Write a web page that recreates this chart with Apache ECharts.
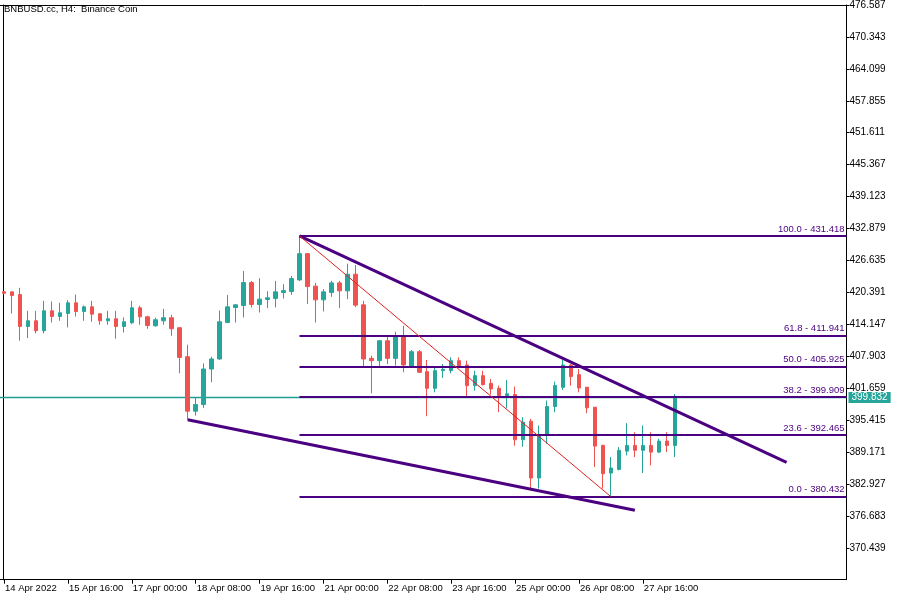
<!DOCTYPE html>
<html>
<head>
<meta charset="utf-8">
<script src="https://cdn.jsdelivr.net/npm/echarts@6/dist/echarts.min.js"></script>
<style>
html,body{margin:0;padding:0;background:#fff;}
#chart{width:900px;height:600px;}
</style>
</head>
<body>
<div id="chart"></div>
<script>
// ---- data (H4 bars, 14 Apr 2022 08:00 onward) ----
const opens  = [420.5,420.49,419.96,413.72,414.83,412.88,416.78,415.67,416.26,418.34,416.65,417.56,416.2,414.83,415.22,413.72,414.44,417.37,415.61,413.85,414.83,415.42,413.47,407.81,397.15,398.45,405.4,407.36,414.5,417.43,417.82,422.3,418.01,418.99,419.19,420.35,420.55,422.83,427.96,421.6,418.92,420.35,422.24,420.68,423.93,417.95,407.48,407.03,410.93,407.48,411.9,406.0,408.78,404.88,401.63,405.08,405.08,407.03,406.19,402.15,404.1,402.6,401.63,400.21,400.4,391.57,395.2,384.08,392.6,398.06,401.82,406.19,404.3,401.82,397.92,390.45,385.05,385.77,389.34,390.45,389.5,390.45,389.15,391.3,390.45];
const closes = [420.2,419.76,413.72,414.83,412.88,416.78,415.67,416.39,418.34,416.65,417.56,416.13,414.83,415.22,413.72,414.63,417.37,415.61,413.92,415.03,415.42,413.27,407.67,397.15,398.45,405.4,407.36,414.63,417.56,417.95,422.3,418.01,419.06,419.32,420.49,420.74,423.08,427.96,421.52,418.92,420.49,422.24,420.68,423.93,417.89,407.36,407.03,410.93,407.48,411.9,406.19,408.78,404.75,401.63,405.08,405.34,407.03,406.05,402.15,404.1,402.35,401.5,400.21,400.54,391.57,395.0,384.08,392.6,398.06,402.15,406.19,403.91,401.7,397.81,390.32,384.93,386.03,389.5,390.45,389.5,390.45,389.15,391.3,390.45,399.832];
const lows   = [420.0,416.25,410.93,411.46,412.36,412.36,414.5,414.83,413.53,415.67,414.83,414.63,414.05,414.05,411.32,412.55,414.18,414.05,413.27,413.66,414.05,411.9,404.57,395.47,396.3,397.8,402.8,407.2,414.4,414.5,415.48,417.43,416.45,417.3,417.43,419.19,419.9,422.6,418.1,414.5,416.65,419.51,417.3,419.06,417.5,405.92,400.65,405.92,406.38,406.05,404.75,405.73,404.6,396.17,400.85,403.66,404.55,405.73,400.0,401.18,402.15,400.4,396.95,397.73,390.4,390.2,382.01,382.01,390.79,396.95,401.3,402.15,400.85,396.76,386.23,382.01,380.432,385.58,388.5,388.17,385.05,386.55,388.95,389.15,388.17];
const highs  = [420.6,420.6,421.27,416.78,416.78,418.73,418.6,418.34,418.87,419.96,417.82,418.73,416.3,416.78,416.78,415.48,418.73,417.76,415.81,415.42,417.17,416.0,413.6,410.15,399.87,406.5,407.8,416.85,419.9,418.1,424.58,422.63,423.15,420.62,422.63,421.99,423.6,431.418,428.1,422.24,421.01,422.63,422.63,426.0,425.75,418.73,408.0,411.0,411.9,412.68,413.86,409.12,409.12,407.17,405.73,406.38,407.68,407.68,407.03,405.08,405.08,403.46,402.15,403.27,401.96,395.97,395.66,394.36,399.23,402.93,407.17,406.38,405.41,401.9,398.0,390.6,388.17,390.13,394.81,393.05,394.36,393.05,391.76,393.05,400.5];
const tickLabels = ["14 Apr 2022","15 Apr 16:00","17 Apr 00:00","18 Apr 08:00","19 Apr 16:00","21 Apr 00:00","22 Apr 08:00","23 Apr 16:00","25 Apr 00:00","26 Apr 08:00","27 Apr 16:00"];
const fibLevels = [100.0, 61.8, 50.0, 38.2, 23.6, 0.0];
const fibPrices = [431.418, 411.941, 405.925, 399.909, 392.465, 380.432];
const fibStartBar = 37;
const upperTrend = [[37, 431.418], [98, 387.15]];
const lowerTrend = [[23, 395.47], [79, 377.79]];
const fibDiagonal = [[37, 431.418], [76, 380.432]];
const lastPrice = 399.832;
const yMin = 364.195, yMax = 476.587, yStep = 6.244;
const slotCount = 106;
const title = "BNBUSD.cc, H4:  Binance Coin";

// ---- build ----
const start = Date.UTC(2022, 3, 14, 8);
const categories = [];
for (let i = 0; i < slotCount; i++) {
  const d = new Date(start + i * 4 * 3600 * 1000);
  categories.push(d.toISOString().slice(0, 16));
}
const candles = opens.map((o, i) => [o, closes[i], lows[i], highs[i]]);

const UP = '#26a69a', DOWN = '#ef5350', IND = '#4b0082';
const FONT = 'Liberation Sans';

const fibData = fibPrices.map((p, i) => [
  {coord: [fibStartBar, p]},
  {coord: [slotCount - 0.5, p], label: {formatter: fibLevels[i].toFixed(1) + ' - ' + p.toFixed(3)}}
]);

const chart = echarts.init(document.getElementById('chart'), null, {renderer: 'canvas'});
chart.setOption({
  animation: false,
  backgroundColor: '#ffffff',
  title: {
    text: title, left: 4, top: 4, padding: 0,
    textStyle: {fontFamily: FONT, fontSize: 9.5, fontWeight: 'normal', color: '#000'}
  },
  grid: {left: -1.5, right: 53.5, top: 3.3, bottom: 20.3},
  xAxis: [{
    type: 'category', data: categories, boundaryGap: true,
    axisLine: {show: true, lineStyle: {color: '#000', width: 1}},
    axisTick: {show: true, alignWithLabel: true, length: 4, lineStyle: {color: '#000'},
      interval: (i) => i % 8 === 0 && i / 8 < tickLabels.length},
    axisLabel: {
      interval: (i) => i % 8 === 0 && i / 8 < tickLabels.length,
      formatter: (v, i) => tickLabels[i / 8] || '',
      align: 'left', margin: 4, padding: [0, 0, 0, 1],
      fontFamily: FONT, fontSize: 9.5, color: '#000'
    },
    splitLine: {show: false}
  }, {
    type: 'value', min: -0.5, max: slotCount - 0.5, position: 'top',
    axisLine: {show: true, onZero: false, lineStyle: {color: '#000', width: 1}},
    axisTick: {show: false}, axisLabel: {show: false}, splitLine: {show: false}
  }],
  yAxis: [{
    type: 'value', position: 'right', scale: true,
    min: yMin, max: yMax, interval: yStep,
    axisLine: {show: true, onZero: false, lineStyle: {color: '#000', width: 1}},
    axisTick: {show: true, length: 3, lineStyle: {color: '#000'}},
    axisLabel: {margin: 3, fontFamily: FONT, fontSize: 10, color: '#000',
      formatter: (v) => v.toFixed(3), showMaxLabel: true, showMinLabel: false},
    splitLine: {show: false}
  }, {
    type: 'value', position: 'left', offset: -3.5, min: 0, max: 1,
    axisLine: {show: true, onZero: false, lineStyle: {color: '#000', width: 1}},
    axisTick: {show: false}, axisLabel: {show: false}, splitLine: {show: false}
  }],
  series: [{
    name: 'price', type: 'line', xAxisIndex: 1, yAxisIndex: 0, z: 1,
    data: [[-0.5, lastPrice], [slotCount - 0.5, lastPrice]],
    showSymbol: false, symbol: 'none', silent: true, clip: false,
    lineStyle: {color: '#1e9e92', width: 1.3, type: 'solid', opacity: 1},
    endLabel: {show: true, distance: 2, formatter: lastPrice.toFixed(3),
      backgroundColor: UP, color: '#fff', padding: [1, 3, 0, 3],
      fontFamily: FONT, fontSize: 10}
  }, {
    type: 'candlestick', xAxisIndex: 0, yAxisIndex: 0, z: 2,
    data: candles, barWidth: 4, clip: true,
    itemStyle: {color: UP, color0: DOWN, borderColor: UP, borderColor0: DOWN, borderWidth: 1}
  }, {
    name: 'fib', type: 'line', xAxisIndex: 1, yAxisIndex: 0, data: [],
    markLine: {
      silent: true, symbol: ['none', 'none'], z: 4,
      lineStyle: {color: IND, width: 2, type: 'solid'},
      label: {show: true, position: 'insideEndTop', distance: 2, color: IND,
        fontFamily: FONT, fontSize: 9.5},
      data: fibData
    }
  }, {
    name: 'trend', type: 'line', xAxisIndex: 1, yAxisIndex: 0, data: [],
    markLine: {
      silent: true, symbol: ['none', 'none'], z: 4,
      label: {show: false},
      data: [
        [{coord: upperTrend[0], lineStyle: {color: IND, width: 3, type: 'solid'}}, {coord: upperTrend[1]}],
        [{coord: lowerTrend[0], lineStyle: {color: IND, width: 3, type: 'solid'}}, {coord: lowerTrend[1]}],
        [{coord: fibDiagonal[0], lineStyle: {color: '#e02020', width: 1, type: 'solid'}}, {coord: fibDiagonal[1]}]
      ]
    }
  }]
});
</script>
</body>
</html>
